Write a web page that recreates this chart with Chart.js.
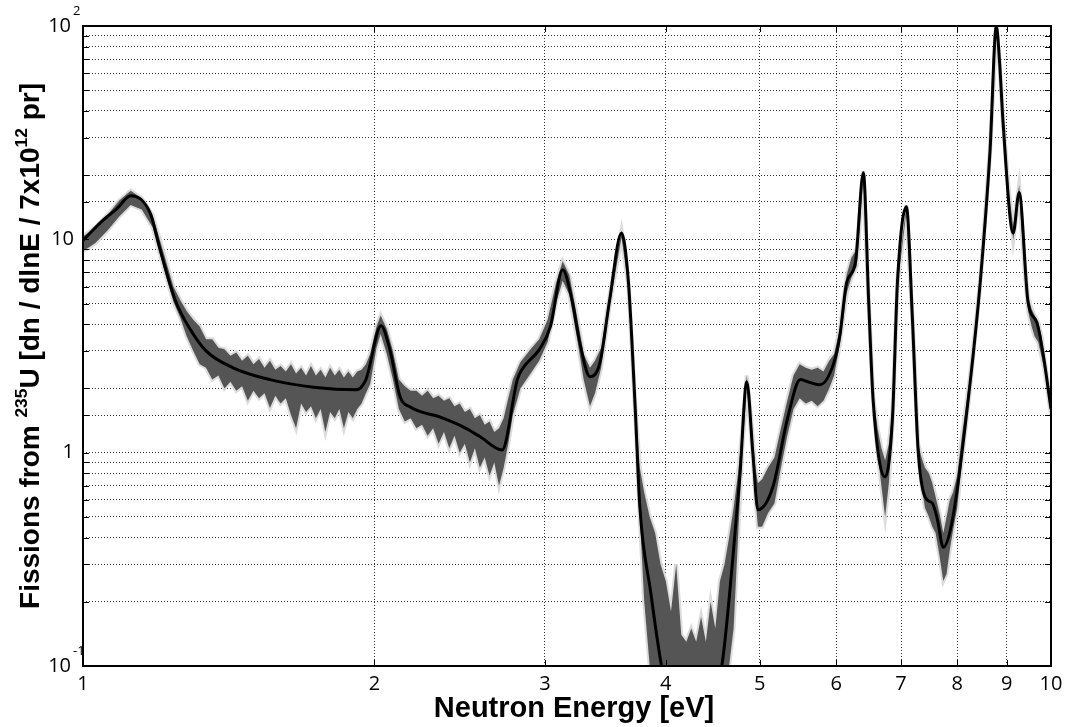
<!DOCTYPE html>
<html>
<head>
<meta charset="utf-8">
<script src="https://cdn.jsdelivr.net/npm/chart.js@4.4.1/dist/chart.umd.min.js"></script>
<style>
  html, body { margin: 0; padding: 0; background: #fff; }
  canvas { display: block; }
</style>
</head>
<body>
<canvas id="fissionChart" width="1069" height="727"></canvas>
<script>
// smoothed fission rate vs neutron energy
const energy = [
  1.00, 1.049, 1.082, 1.121, 1.173, 1.201, 1.245, 1.290, 1.340, 1.429,
  1.560, 1.740, 1.914, 1.960, 2.032, 2.075, 2.126, 2.176, 2.336, 2.470,
  2.570, 2.710, 2.810, 2.840, 2.960, 3.040, 3.130, 3.200, 3.260, 3.340,
  3.420, 3.500, 3.600, 3.660, 3.720, 3.760, 3.860, 3.960, 4.200, 4.570,
  4.690, 4.770, 4.850, 4.920, 4.980, 5.160, 5.340, 5.510, 5.640, 5.770,
  5.960, 6.050, 6.150, 6.280, 6.400, 6.480, 6.550, 6.740, 6.860, 6.940,
  7.090, 7.190, 7.290, 7.410, 7.540, 7.630, 7.740, 7.920, 8.250, 8.450,
  8.650, 8.780, 8.850, 8.920, 9.140, 9.270, 9.470, 9.670, 9.810, 10.00
];
const fissions = [
  9.9, 12.3, 13.8, 16.0, 13.3, 9.0, 5.2, 3.8, 3.0, 2.5,
  2.2, 2.02, 1.97, 2.2, 3.94, 3.04, 1.83, 1.64, 1.47, 1.32,
  1.19, 1.03, 2.2, 2.45, 3.04, 3.9, 7.2, 5.2, 3.28, 2.27,
  2.64, 5.2, 10.7, 6.27, 1.59, 0.56, 0.22, 0.1, 0.035, 0.1,
  0.315, 0.77, 2.15, 1.0, 0.54, 0.69, 1.43, 2.2, 2.13, 2.08,
  2.6, 3.5, 6.27, 7.78, 20.5, 5.2, 1.77, 0.77, 1.48, 6.27,
  14.2, 4.34, 1.03, 0.62, 0.58, 0.49, 0.36, 0.5, 2.13, 6.27,
  26, 100, 67, 36, 10.7, 16.6, 5.05, 4.07, 2.94, 1.6
];

// spread of the measured points around the curve
const noiseEnergy = [
  1.00, 1.03, 1.06, 1.09, 1.12, 1.15, 1.18, 1.21, 1.24, 1.26,
  1.28, 1.30, 1.32, 1.34, 1.36, 1.38, 1.40, 1.42, 1.44, 1.46,
  1.48, 1.50, 1.52, 1.54, 1.56, 1.58, 1.60, 1.62, 1.64, 1.66,
  1.68, 1.70, 1.72, 1.74, 1.76, 1.78, 1.80, 1.82, 1.84, 1.86,
  1.88, 1.90, 1.92, 1.94, 1.96, 1.98, 2.01, 2.03, 2.06, 2.09,
  2.12, 2.15, 2.18, 2.21, 2.24, 2.27, 2.30, 2.33, 2.36, 2.39,
  2.42, 2.45, 2.48, 2.51, 2.54, 2.57, 2.60, 2.63, 2.66, 2.69,
  2.72, 2.75, 2.78, 2.83, 2.90, 2.96, 3.02, 3.08, 3.13, 3.18,
  3.24, 3.29, 3.34, 3.38, 3.43, 3.50, 3.60, 3.66, 3.72, 3.76,
  3.80, 3.85, 3.90, 3.95, 4.00, 4.05, 4.10, 4.15, 4.20, 4.25,
  4.30, 4.35, 4.40, 4.45, 4.50, 4.55, 4.60, 4.65, 4.70, 4.75,
  4.80, 4.85, 4.90, 4.95, 4.98, 5.03, 5.10, 5.18, 5.26, 5.34,
  5.42, 5.50, 5.58, 5.66, 5.74, 5.82, 5.90, 5.97, 6.05, 6.15,
  6.22, 6.30, 6.40, 6.48, 6.55, 6.62, 6.68, 6.74, 6.80, 6.86,
  6.94, 7.09, 7.19, 7.29, 7.35, 7.41, 7.48, 7.54, 7.60, 7.67,
  7.74, 7.80, 7.86, 7.92, 8.00, 8.10, 8.25, 8.45, 8.65, 8.78,
  8.85, 8.92, 9.05, 9.14, 9.27, 9.40, 9.47, 9.55, 9.62, 9.70,
  9.78, 9.85, 10.0
];
const noiseLow = [
  8.8, 9.6, 11.0, 12.8, 14.5, 13.8, 11.4, 7.5, 5.1, 4.3,
  3.5, 3.0, 2.6, 2.5, 2.2, 2.3, 2.0, 2.15, 1.95, 2.05,
  1.75, 1.95, 1.8, 1.9, 1.62, 1.85, 1.7, 1.8, 1.5, 1.3,
  1.7, 1.55, 1.65, 1.45, 1.6, 1.25, 1.55, 1.45, 1.6, 1.3,
  1.55, 1.45, 1.6, 1.7, 1.9, 2.1, 3.1, 3.6, 2.9, 2.2,
  1.6, 1.4, 1.45, 1.3, 1.35, 1.2, 1.3, 1.1, 1.25, 1.05,
  1.2, 1.0, 1.1, 0.9, 1.05, 0.85, 0.95, 0.78, 0.9, 0.7,
  0.85, 1.1, 1.5, 2.0, 2.35, 2.7, 3.3, 5.0, 6.4, 5.5,
  3.4, 2.2, 1.65, 1.9, 2.5, 4.9, 10.2, 6.0, 1.5, 0.5,
  0.2, 0.1, 0.08, 0.08, 0.08, 0.08, 0.08, 0.08, 0.08, 0.08,
  0.08, 0.08, 0.08, 0.08, 0.08, 0.08, 0.08, 0.1, 0.15, 0.4,
  1.05, 2.0, 1.2, 0.62, 0.45, 0.45, 0.52, 0.58, 0.85, 1.2,
  1.6, 1.8, 1.7, 1.75, 1.65, 1.75, 2.0, 2.3, 3.2, 5.6,
  6.6, 7.5, 19.5, 5.0, 1.7, 1.0, 0.7, 0.5, 0.72, 1.35,
  6.0, 13.5, 4.2, 1.0, 0.7, 0.55, 0.5, 0.45, 0.42, 0.33,
  0.25, 0.27, 0.35, 0.43, 0.55, 0.95, 2.0, 6.1, 25, 98,
  65, 35, 15.5, 9.9, 16, 6.8, 4.6, 3.9, 3.5, 3.3,
  2.8, 2.4, 1.5
];
const noiseHigh = [
  10.3, 11.4, 13.0, 15.2, 16.9, 15.6, 13.0, 8.8, 6.0, 5.2,
  4.6, 4.2, 3.9, 3.4, 3.4, 3.1, 3.05, 2.85, 2.95, 2.7,
  2.85, 2.6, 2.75, 2.5, 2.7, 2.45, 2.55, 2.4, 2.6, 2.35,
  2.5, 2.3, 2.55, 2.3, 2.45, 2.25, 2.5, 2.3, 2.45, 2.25,
  2.4, 2.25, 2.4, 2.45, 2.6, 2.9, 3.9, 4.4, 3.8, 3.0,
  2.2, 2.05, 1.95, 1.95, 1.85, 1.95, 1.8, 1.85, 1.75, 1.8,
  1.65, 1.7, 1.55, 1.6, 1.45, 1.5, 1.35, 1.4, 1.25, 1.3,
  1.45, 1.8, 2.2, 2.65, 3.05, 3.4, 4.2, 6.2, 7.9, 6.8,
  4.3, 2.9, 2.5, 2.7, 3.1, 5.5, 11.0, 6.5, 1.7, 0.85,
  0.65, 0.5, 0.42, 0.3, 0.25, 0.18, 0.3, 0.14, 0.13, 0.15,
  0.13, 0.17, 0.13, 0.2, 0.15, 0.25, 0.3, 0.4, 0.55, 0.8,
  1.3, 2.3, 1.45, 0.85, 0.72, 0.75, 0.85, 0.95, 1.3, 1.75,
  2.3, 2.6, 2.5, 2.45, 2.5, 2.4, 2.7, 2.9, 3.8, 6.8,
  8.2, 9.0, 21, 5.4, 1.85, 1.3, 1.05, 0.92, 1.1, 1.6,
  6.5, 14.5, 4.5, 1.1, 0.95, 0.85, 0.8, 0.72, 0.62, 0.52,
  0.42, 0.5, 0.6, 0.65, 0.78, 1.25, 2.3, 6.4, 27, 100,
  68, 37, 16.5, 11.5, 18, 7.5, 5.4, 4.7, 4.4, 4.1,
  3.5, 2.7, 1.7
];

const xTickValues = [1, 2, 3, 4, 5, 6, 7, 8, 9, 10];
const yTickValues = [0.1, 1, 10, 100];
const yTickLabels = [['10', '-1'], ['1', ''], ['10', ''], ['10', '2']];

const darkGray = '#555555';
const lightGray = '#dcdcdc';

const pts = (xs, ys) => xs.map((v, i) => ({ x: v, y: ys[i] }));

function richWidth(ctx, parts, size) {
  let w = 0;
  parts.forEach(([t, sup]) => {
    ctx.font = 'bold ' + (sup ? size * 0.62 : size) + 'px "Liberation Sans", Arial, sans-serif';
    w += ctx.measureText(t).width;
  });
  return w;
}

function drawRich(ctx, parts, x0, size) {
  let x = x0;
  parts.forEach(([t, sup]) => {
    ctx.font = 'bold ' + (sup ? size * 0.62 : size) + 'px "Liberation Sans", Arial, sans-serif';
    ctx.fillText(t, x, sup ? -size * 0.42 : 0);
    x += ctx.measureText(t).width;
  });
}

// box, inward ticks and all the text
const frame = {
  id: 'frame',
  afterDraw(chart) {
    const { ctx, chartArea: a, scales: { x, y } } = chart;
    ctx.save();
    ctx.strokeStyle = '#000';
    ctx.lineWidth = 1;
    ctx.beginPath();
    x.ticks.forEach(t => {
      const px = Math.round(x.getPixelForValue(t.value)) + 0.5;
      ctx.moveTo(px, a.bottom); ctx.lineTo(px, a.bottom - 6);
      ctx.moveTo(px, a.top); ctx.lineTo(px, a.top + 6);
    });
    y.ticks.forEach(t => {
      const py = Math.round(y.getPixelForValue(t.value)) + 0.5;
      ctx.moveTo(a.left, py); ctx.lineTo(a.left + 6, py);
      ctx.moveTo(a.right, py); ctx.lineTo(a.right - 6, py);
    });
    ctx.stroke();

    ctx.lineWidth = 2;
    ctx.strokeRect(a.left, a.top, a.right - a.left, a.bottom - a.top);

    ctx.fillStyle = '#000';
    ctx.font = '20px "Open Sans", sans-serif';
    ctx.textAlign = 'center';
    ctx.textBaseline = 'top';
    xTickValues.forEach(v => {
      ctx.fillText(String(v), x.getPixelForValue(v), a.bottom + 8);
    });

    ctx.textBaseline = 'middle';
    yTickValues.forEach((v, i) => {
      const py = y.getPixelForValue(v);
      const [base, sup] = yTickLabels[i];
      ctx.font = '20px "Open Sans", sans-serif';
      ctx.textAlign = 'right';
      ctx.fillText(base, sup ? 71 : 74, py);
      if (sup) {
        ctx.font = '13px "Open Sans", sans-serif';
        ctx.textAlign = 'left';
        ctx.fillText(sup, 73, py - 15);
      }
    });

    // x title
    ctx.textAlign = 'center';
    ctx.textBaseline = 'alphabetic';
    ctx.font = 'bold 29px "Liberation Sans", Arial, sans-serif';
    ctx.fillText('Neutron Energy [eV]', 574, 717);

    // y title with superscripts
    const parts = [['Fissions from ', 0], ['235', 1], ['U [dn / dlnE / 7x10', 0], ['12', 1], [' pr]', 0]];
    const size = 28;
    ctx.textAlign = 'left';
    ctx.translate(39, (a.top + a.bottom) / 2);
    ctx.rotate(-Math.PI / 2);
    const w = richWidth(ctx, parts, size);
    drawRich(ctx, parts, -w / 2, size);
    ctx.restore();
  }
};

const gridStyle = { color: 'rgba(0,0,0,0.8)', lineWidth: 1, drawTicks: false };

new Chart(document.getElementById('fissionChart'), {
  type: 'line',
  data: {
    datasets: [
      { data: pts(noiseEnergy, noiseLow), borderColor: lightGray, borderWidth: 4, pointRadius: 0, fill: false, order: 4, clip: 0 },
      { data: pts(noiseEnergy, noiseHigh), borderColor: lightGray, borderWidth: 4, pointRadius: 0, fill: false, order: 3, clip: 0 },
      { data: pts(noiseEnergy, noiseLow), borderWidth: 0, borderColor: 'rgba(0,0,0,0)', pointRadius: 0, fill: false, order: 2, clip: 0 },
      { data: pts(noiseEnergy, noiseHigh), borderWidth: 0, borderColor: 'rgba(0,0,0,0)', pointRadius: 0, fill: 2, backgroundColor: darkGray, order: 1, clip: 0 },
      { data: pts(energy, fissions), borderColor: '#000', borderWidth: 3, pointRadius: 0, cubicInterpolationMode: 'monotone', fill: false, order: 0 }
    ]
  },
  options: {
    responsive: false,
    animation: false,
    devicePixelRatio: 1,
    layout: { padding: { left: 83, top: 26, right: 18, bottom: 61 } },
    plugins: { legend: { display: false }, tooltip: { enabled: false } },
    scales: {
      x: {
        type: 'logarithmic', min: 1, max: 10,
        afterBuildTicks: scale => { scale.ticks = xTickValues.map(v => ({ value: v })); },
        ticks: { display: false },
        grid: gridStyle,
        border: { display: false, dash: [1, 2] }
      },
      y: {
        type: 'logarithmic', min: 0.1, max: 100,
        ticks: { display: false },
        grid: gridStyle,
        border: { display: false, dash: [1, 2] }
      }
    }
  },
  plugins: [frame]
});
</script>
</body>
</html>
